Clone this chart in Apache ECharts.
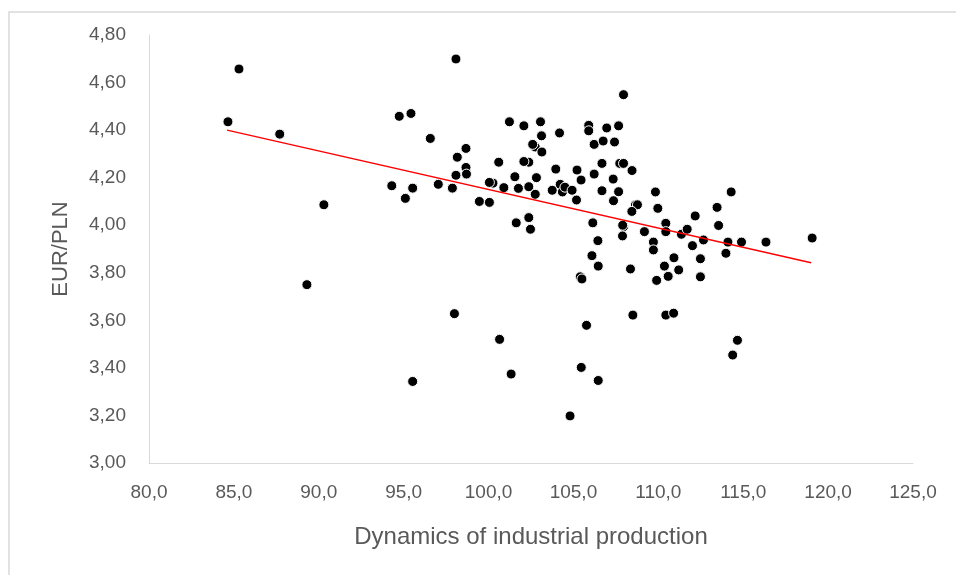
<!DOCTYPE html>
<html>
<head>
<meta charset="utf-8">
<script src="https://cdn.jsdelivr.net/npm/echarts@6/dist/echarts.min.js"></script>
<style>
html,body{margin:0;padding:0;background:#fff;}
#chart{width:956px;height:575px;}
</style>
</head>
<body>
<div id="chart"></div>
<script>
// Dynamics of industrial production (x) vs EUR/PLN (y)
const xValues = [
  84.65, 85.3, 87.7, 90.3, 89.3, 94.3, 94.74, 95.43, 95.1, 95.53,
  96.57, 97.04, 97.87, 98.08, 98.16, 98.67, 98.67, 98.7, 98.08, 99.46,
  100.05, 100.26, 100.05, 100.6, 100.9, 101.23, 101.55, 101.63, 101.76, 102.08,
  102.37, 102.08, 102.37, 102.47, 102.37, 102.75, 102.6, 102.82, 102.75, 103.06,
  103.12, 103.14, 103.75, 103.96, 104.18, 104.22, 104.35, 104.5, 104.92, 105.21,
  105.45, 105.18, 105.9, 105.9, 106.22, 106.22, 106.75, 106.96, 107.66, 107.42,
  106.68, 107.73, 107.95, 107.34, 106.68, 107.66, 107.36, 108.45, 107.95, 108.65,
  108.77, 106.14, 106.44, 106.09, 106.46, 105.4, 105.5, 107.95, 107.9, 107.89,
  108.36, 108.44, 109.83, 109.97, 109.18, 110.44, 110.44, 111.36, 111.7, 112.17,
  109.71, 109.71, 110.92, 112.01, 112.66, 112.48, 113.46, 113.55, 114.29, 114.1,
  113.98, 114.9, 116.34, 119.06, 110.36, 111.2, 110.58, 109.9, 112.48, 105.77,
  108.5, 110.44, 110.9, 105.46, 106.46, 104.8, 114.66, 114.38, 97.99, 100.65,
  101.33, 95.53
];
const yValues = [
  4.435, 4.657, 4.383, 4.086, 3.75, 4.166, 4.458, 4.47, 4.113, 4.156,
  4.365, 4.172, 4.156, 4.21, 4.286, 4.323, 4.243, 4.215, 4.699, 4.10,
  4.096, 4.177, 4.18, 4.265, 4.158, 4.435, 4.204, 4.01, 4.155, 4.418,
  4.265, 4.268, 4.032, 3.983, 4.162, 4.329, 4.34, 4.20, 4.13, 4.435,
  4.376, 4.308, 4.147, 4.236, 4.388, 4.172, 4.14, 4.16, 4.147, 4.232,
  4.19, 4.106, 4.42, 4.397, 4.34, 4.215, 4.354, 4.409, 4.418, 4.35,
  4.26, 4.26, 4.26, 4.194, 4.145, 4.141, 4.103, 4.23, 4.549, 4.085,
  4.086, 4.01, 3.935, 3.872, 3.828, 3.783, 3.774, 3.994, 4.0, 3.955,
  3.816, 4.058, 4.14, 4.071, 3.973, 4.008, 3.973, 3.962, 3.983, 4.039,
  3.929, 3.896, 3.863, 3.914, 3.938, 3.859, 4.075, 3.999, 4.14, 3.929,
  3.882, 3.929, 3.929, 3.946, 3.828, 3.812, 3.785, 3.768, 3.783, 3.579,
  3.622, 3.622, 3.63, 3.402, 3.347, 3.198, 3.516, 3.454, 3.628, 3.52,
  3.374, 3.343
];
// Linear trend line endpoints
const trendX = [84.6, 119.0];
const trendY = [4.40, 3.842];

const xAxisTitle = 'Dynamics of industrial production';
const yAxisTitle = 'EUR/PLN';

const points = xValues.map((x, i) => [x, yValues[i]]);
const trend = trendX.map((x, i) => [x, trendY[i]]);

const FONT = 'Liberation Sans';
const chart = echarts.init(document.getElementById('chart'), null, {renderer: 'canvas'});
chart.setOption({
  animation: false,
  backgroundColor: '#ffffff',
  graphic: [{
    type: 'rect',
    shape: {x: 9, y: 12, width: 1000, height: 700},
    style: {fill: 'none', stroke: '#d9d9d9', lineWidth: 1.5},
    silent: true
  }],
  grid: {left: 149, right: 43, top: 35, bottom: 112, containLabel: false},
  xAxis: {
    type: 'value', min: 80, max: 125, interval: 5,
    name: xAxisTitle, nameLocation: 'middle', nameGap: 62,
    nameTextStyle: {color: '#595959', fontSize: 24, fontFamily: FONT},
    axisLine: {show: true, onZero: false, lineStyle: {color: '#d9d9d9', width: 1}},
    axisTick: {show: false},
    splitLine: {show: false},
    axisLabel: {color: '#595959', fontSize: 19, fontFamily: FONT, margin: 20,
      formatter: v => v.toFixed(1).replace('.', ',')}
  },
  yAxis: {
    type: 'value', min: 3, max: 4.8, interval: 0.2,
    name: yAxisTitle, nameLocation: 'middle', nameGap: 77, nameRotate: 90,
    nameTextStyle: {color: '#595959', fontSize: 22, fontFamily: FONT},
    axisLine: {show: true, onZero: false, lineStyle: {color: '#d9d9d9', width: 1}},
    axisTick: {show: false},
    splitLine: {show: false},
    axisLabel: {color: '#595959', fontSize: 19, fontFamily: FONT, margin: 23,
      formatter: v => v.toFixed(2).replace('.', ',')}
  },
  series: [{
    type: 'scatter',
    data: points,
    symbol: 'circle',
    symbolSize: 10,
    itemStyle: {color: '#000000', borderColor: '#ffffff', borderWidth: 1, opacity: 1},
    z: 2
  }, {
    type: 'line',
    data: trend,
    symbol: 'none',
    lineStyle: {color: '#ff0000', width: 1.5},
    z: 3
  }]
});
</script>
</body>
</html>
